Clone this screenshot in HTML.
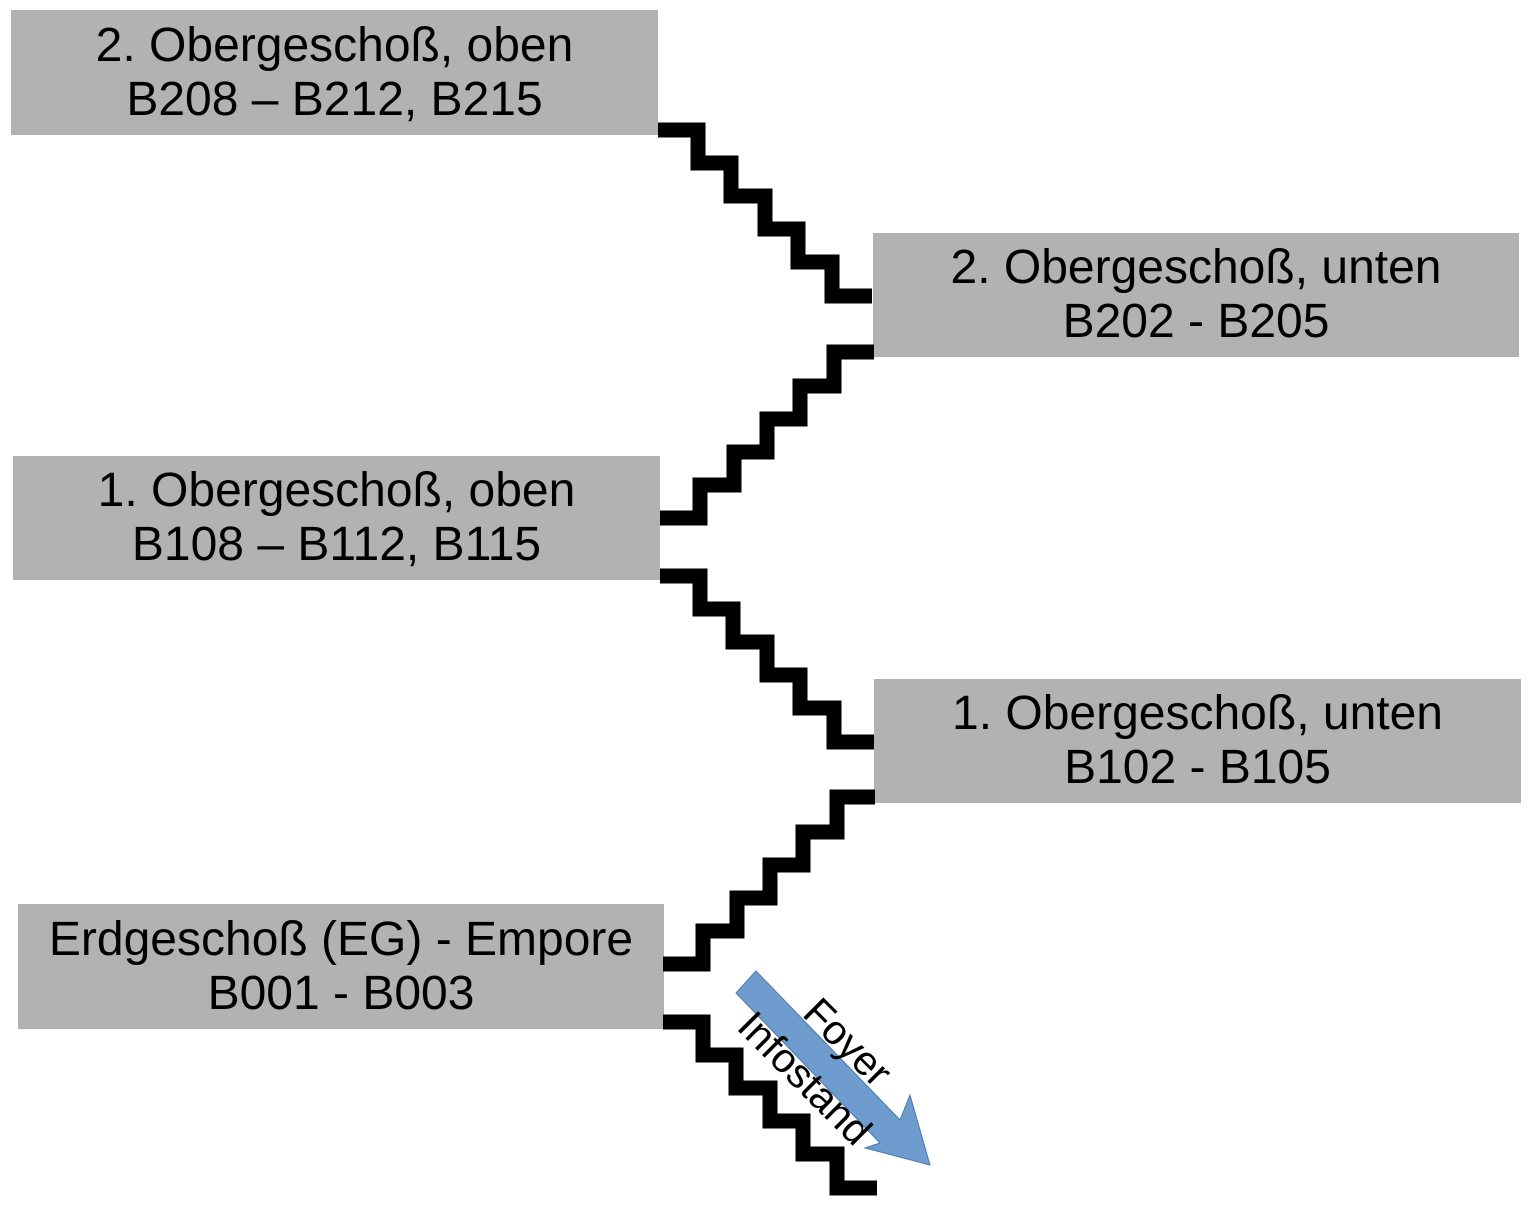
<!DOCTYPE html>
<html><head><meta charset="utf-8"><style>
html,body{margin:0;padding:0;background:#fff}
.b{position:absolute;background:#b2b2b2;display:flex;align-items:center;justify-content:center;text-align:center;font-family:"Liberation Sans",sans-serif;font-size:48px;line-height:54px;color:#000;white-space:nowrap}
</style></head><body>
<div class="b" style="left:11px;top:10px;width:647px;height:125px">2. Obergeschoß, oben<br>B208 – B212, B215</div>
<div class="b" style="left:873px;top:233px;width:646px;height:124px">2. Obergeschoß, unten<br>B202 - B205</div>
<div class="b" style="left:13px;top:456px;width:647px;height:124px">1. Obergeschoß, oben<br>B108 – B112, B115</div>
<div class="b" style="left:874px;top:679px;width:647px;height:124px">1. Obergeschoß, unten<br>B102 - B105</div>
<div class="b" style="left:18px;top:904px;width:646px;height:125px">Erdgeschoß (EG) - Empore<br>B001 - B003</div>
<svg width="1532" height="1208" style="position:absolute;left:0;top:0">
<g fill="none" stroke="#000" stroke-width="15" stroke-linejoin="miter" stroke-linecap="butt">
<path d="M658 130H698V163H731V196H765V229H798V262H832V296H872"/>
<path d="M660 518H700V485H734V452H767V419H800V386H834V352H874"/>
<path d="M660 576H700V609H733V642H767V675H800V708H834V742H874"/>
<path d="M663 964H703V931H737V898H770V865H803V832H837V797H875"/>
<path d="M663 1022H703V1055H736V1088H770V1121H803V1154H837V1188H877"/>
</g>
<polygon points="756,971 736,993 880,1143 865,1148 930,1165 910,1095 900,1120" fill="#6e9ccf" stroke="#4a78b0" stroke-width="1"/>
<g font-family="Liberation Sans, sans-serif" font-size="41" fill="#000" text-anchor="middle">
<text transform="translate(838,1052) rotate(45)">Foyer</text>
<text transform="translate(795,1088) rotate(45)">Infostand</text>
</g>
</svg>
</body></html>
